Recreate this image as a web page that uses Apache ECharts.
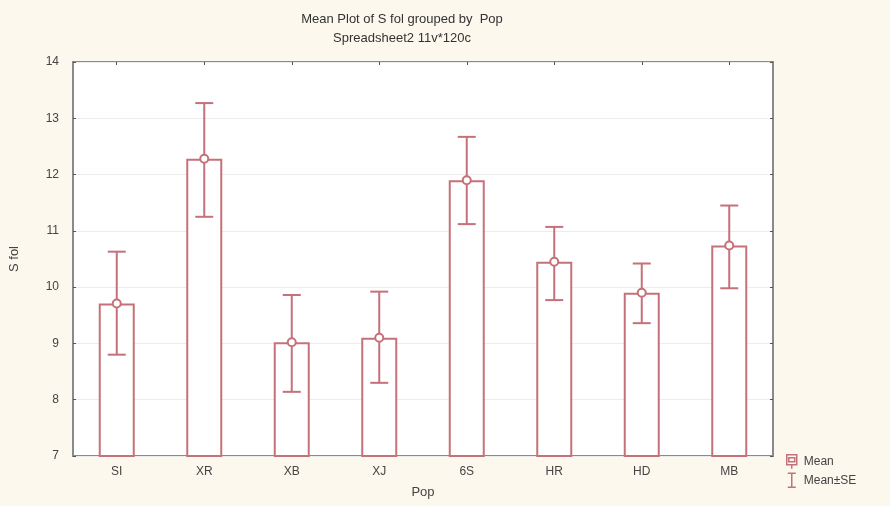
<!DOCTYPE html>
<html>
<head>
<meta charset="utf-8">
<script src="https://cdn.jsdelivr.net/npm/echarts@6/dist/echarts.min.js"></script>
<style>
  html, body { margin: 0; padding: 0; background: #fcf8ee; }
  #chart { width: 890px; height: 506px; }
</style>
</head>
<body>
<div id="chart"></div>
<script>
// Population groups and the mean of S fol with its standard-error limits
const categories = ['SI', 'XR', 'XB', 'XJ', '6S', 'HR', 'HD', 'MB'];
const means      = [9.71, 12.28, 9.02, 9.10, 11.90, 10.45, 9.90, 10.74];
const upperSE    = [10.63, 13.27, 9.86, 9.92, 12.67, 11.07, 10.42, 11.45];
const lowerSE    = [8.80, 11.25, 8.14, 8.30, 11.12, 9.77, 9.36, 9.98];
const yTicks     = [7, 8, 9, 10, 11, 12, 13, 14];

const red = '#c5717a';
const font = 'Liberation Sans, Arial, sans-serif';

const errData = categories.map((c, i) => [i, lowerSE[i], upperSE[i]]);

const chart = echarts.init(document.getElementById('chart'));
chart.setOption({
  backgroundColor: '#fcf8ee',
  animation: false,
  title: {
    text: 'Mean Plot of S fol grouped by  Pop',
    subtext: 'Spreadsheet2 11v*120c',
    left: 397, top: 8, textAlign: 'center',
    itemGap: 6,
    textStyle: { fontFamily: font, fontSize: 13, fontWeight: 'normal', color: '#333' },
    subtextStyle: { fontFamily: font, fontSize: 13, color: '#333' }
  },
  grid: {
    left: 72, right: 117, top: 62, bottom: 50,
    show: true, backgroundColor: '#ffffff', borderColor: '#8a8a8a', borderWidth: 2
  },
  legend: {
    orient: 'vertical', left: 781, top: 449, itemGap: 3,
    itemWidth: 14, itemHeight: 14,
    textStyle: { fontFamily: font, fontSize: 12, color: '#444' },
    data: [
      { name: 'Mean', icon: 'path://M0,0H10V10H0Z M2,3H8V7H2Z M5,10V14' },
      { name: 'Mean±SE', icon: 'path://M1,0H9 M5,0V14 M1,14H9' }
    ],
    itemStyle: { color: 'transparent', borderColor: red, borderWidth: 1.5 }
  },
  xAxis: [{
    type: 'category', data: categories,
    name: 'Pop', nameLocation: 'middle', nameGap: 30,
    nameTextStyle: { fontFamily: font, fontSize: 13, color: '#444' },
    axisLine: { show: false },
    axisTick: { show: true, inside: true, alignWithLabel: true, length: 3, lineStyle: { color: '#555' } },
    axisLabel: { fontFamily: font, fontSize: 12, color: '#444', margin: 10 },
    splitLine: { show: false }
  }, {
    type: 'category', data: categories, position: 'top',
    axisLine: { show: false },
    axisTick: { show: true, inside: true, alignWithLabel: true, length: 3, lineStyle: { color: '#555' } },
    axisLabel: { show: false }
  }],
  yAxis: [{
    type: 'value', min: yTicks[0], max: yTicks[yTicks.length - 1], interval: 1,
    name: 'S fol', nameLocation: 'middle', nameGap: 52,
    nameTextStyle: { fontFamily: font, fontSize: 13, color: '#444' },
    axisLine: { show: false },
    axisTick: { show: true, inside: true, length: 3, lineStyle: { color: '#555' } },
    axisLabel: { fontFamily: font, fontSize: 12, color: '#444', margin: 14 },
    splitLine: { show: true, lineStyle: { color: '#ececec', width: 1 } }
  }, {
    type: 'value', min: yTicks[0], max: yTicks[yTicks.length - 1], interval: 1, position: 'right',
    axisLine: { show: false },
    axisTick: { show: true, inside: true, length: 3, lineStyle: { color: '#555' } },
    axisLabel: { show: false },
    splitLine: { show: false }
  }],
  series: [{
    name: 'Bars', type: 'bar', data: means, barWidth: 36,
    itemStyle: { color: '#ffffff', borderColor: red, borderWidth: 2 },
    z: 2
  }, {
    name: 'Mean±SE', type: 'custom', data: errData,
    itemStyle: { color: red },
    renderItem: function (params, api) {
      const x = api.value(0);
      const lo = api.coord([x, api.value(1)]);
      const hi = api.coord([x, api.value(2)]);
      const w = 9;
      const style = { stroke: red, lineWidth: 2, fill: null };
      return {
        type: 'group',
        children: [
          { type: 'line', shape: { x1: lo[0], y1: lo[1], x2: hi[0], y2: hi[1] }, style: style },
          { type: 'line', shape: { x1: hi[0] - w, y1: hi[1], x2: hi[0] + w, y2: hi[1] }, style: style },
          { type: 'line', shape: { x1: lo[0] - w, y1: lo[1], x2: lo[0] + w, y2: lo[1] }, style: style }
        ]
      };
    },
    z: 3
  }, {
    name: 'Mean', type: 'scatter', data: means,
    symbol: 'circle', symbolSize: 8,
    itemStyle: { color: '#ffffff', borderColor: red, borderWidth: 2, opacity: 1 },
    z: 4
  }]
});
</script>
</body>
</html>
